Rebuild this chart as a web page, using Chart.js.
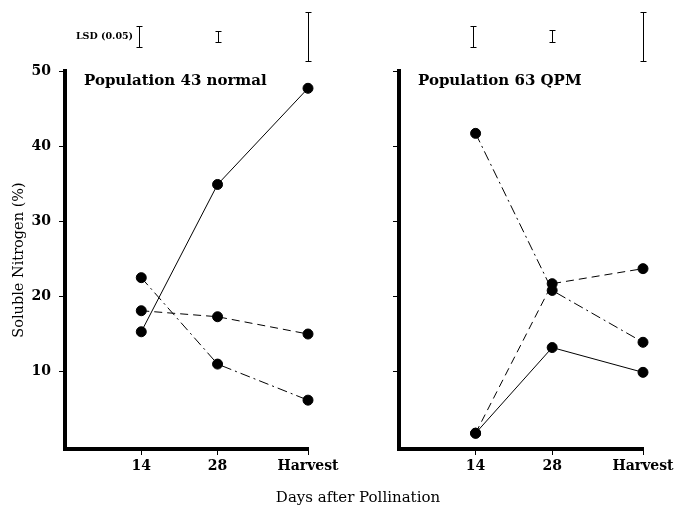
<!DOCTYPE html>
<html>
<head>
<meta charset="utf-8">
<script src="https://cdn.jsdelivr.net/npm/chart.js@4.4.0/dist/chart.umd.min.js"></script>
<style>
    body { margin: 0; background: #fff; }
    #wrap { position: relative; width: 685px; height: 506px; overflow: hidden; background: #fff; }
    #leftChart { position: absolute; left: 0; top: 0; }
    #rightChart { position: absolute; left: 345px; top: 0; }
    #xTitle {
        position: absolute; left: 358px; top: 488px; transform: translateX(-50%);
        font: 15px 'DejaVu Serif', serif; color: #000; white-space: nowrap;
    }
</style>
</head>
<body>
<div id="wrap">
    <canvas id="leftChart" width="345" height="506"></canvas>
    <canvas id="rightChart" width="340" height="506"></canvas>
    <div id="xTitle">Days after Pollination</div>
</div>
<script>
    'use strict';

    // дни после опыления (позиции на линейной оси) и подписи
    const dayLabels = ['14', '28', 'Harvest'];
    const dayPositions = [14, 28, 44.6];
    const yTicks = [10, 20, 30, 40, 50];

    // Population 43 normal
    const normalSolid = [15.3, 34.9, 47.7];
    const normalDashed = [18.1, 17.3, 15.0];
    const normalDashDot = [22.5, 11.0, 6.2];

    // Population 63 QPM
    const qpmSolid = [1.8, 13.2, 9.9];
    const qpmDashed = [1.8, 21.7, 23.7];
    const qpmDashDot = [41.7, 20.8, 13.9];

    // LSD (0.05) — длина отрезка в единицах оси
    const lsdPositions = [13.6, 28, 44.6];
    const normalLsd = [2.8, 1.5, 6.5];
    const qpmLsd = [2.8, 1.6, 6.5];
    const lsdCenter = 54.6;

    const SERIF = "'DejaVu Serif', serif";

    const panelDecor = {
        id: 'panelDecor',
        afterDraw(chart, args, opts) {
            const ctx = chart.ctx;
            const xs = chart.scales.x;
            const ys = chart.scales.y;
            const area = chart.chartArea;
            ctx.save();
            ctx.fillStyle = '#000';
            ctx.strokeStyle = '#000';

            // заголовок панели
            ctx.font = 'bold 15px ' + SERIF;
            ctx.textAlign = 'left';
            ctx.textBaseline = 'middle';
            ctx.fillText(opts.title, area.left + 19, area.top + 10);

            // отрезки LSD
            ctx.lineWidth = 1;
            opts.lsd.forEach(function(len, i) {
                const x = Math.round(xs.getPixelForValue(lsdPositions[i])) + 0.5;
                const yTop = Math.round(ys.getPixelForValue(lsdCenter + len / 2)) + 0.5;
                const yBot = Math.round(ys.getPixelForValue(lsdCenter - len / 2)) + 0.5;
                ctx.beginPath();
                ctx.moveTo(x, yTop);
                ctx.lineTo(x, yBot);
                ctx.moveTo(x - 3, yTop);
                ctx.lineTo(x + 3, yTop);
                ctx.moveTo(x - 3, yBot);
                ctx.lineTo(x + 3, yBot);
                ctx.stroke();
            });

            if (opts.showLabel) {
                ctx.font = 'bold 9.5px ' + SERIF;
                ctx.textAlign = 'right';
                ctx.fillText('LSD (0.05)', xs.getPixelForValue(lsdPositions[0]) - 6, ys.getPixelForValue(lsdCenter));
            }
            ctx.restore();
        }
    };

    function toPoints(values) {
        return values.map(function(v, i) {
            return { x: dayPositions[i], y: v };
        });
    }

    function lineSet(values, dash) {
        return {
            data: toPoints(values),
            borderColor: '#000',
            backgroundColor: '#000',
            borderWidth: 1,
            borderDash: dash,
            pointRadius: 5,
            pointBorderWidth: 1,
            pointBorderColor: '#000',
            pointBackgroundColor: '#000',
            tension: 0,
            clip: false
        };
    }

    function makePanel(canvasId, cfg) {
        const canvas = document.getElementById(canvasId);
        return new Chart(canvas.getContext('2d'), {
            type: 'line',
            data: {
                datasets: [
                    lineSet(cfg.solid, []),
                    lineSet(cfg.dashed, [8, 5]),
                    lineSet(cfg.dashDot, [10, 4, 2, 4])
                ]
            },
            plugins: [panelDecor],
            options: {
                responsive: false,
                animation: false,
                events: [],
                layout: {
                    padding: { top: 71, right: cfg.padRight, bottom: 0, left: 0 }
                },
                plugins: {
                    legend: { display: false },
                    tooltip: { enabled: false },
                    panelDecor: { title: cfg.title, lsd: cfg.lsd, showLabel: cfg.showLabels }
                },
                scales: {
                    x: {
                        type: 'linear',
                        min: 0,
                        max: dayPositions[dayPositions.length - 1],
                        afterBuildTicks: function(scale) {
                            scale.ticks = dayPositions.map(function(v) { return { value: v }; });
                        },
                        afterFit: function(scale) {
                            scale.height = 57;
                        },
                        ticks: {
                            autoSkip: false,
                            maxRotation: 0,
                            padding: 3,
                            color: '#000',
                            font: { family: SERIF, size: 14, weight: 'bold' },
                            callback: function(value, index) {
                                return dayLabels[index];
                            }
                        },
                        grid: {
                            drawOnChartArea: false,
                            drawTicks: true,
                            tickLength: 6,
                            color: '#000',
                            lineWidth: 1
                        },
                        border: { display: true, color: '#000', width: 4 }
                    },
                    y: {
                        min: -0.3,
                        max: 50,
                        afterBuildTicks: function(scale) {
                            scale.ticks = yTicks.map(function(v) { return { value: v }; });
                        },
                        afterFit: function(scale) {
                            scale.width = cfg.yWidth;
                        },
                        title: {
                            display: cfg.showLabels,
                            text: 'Soluble Nitrogen (%)',
                            color: '#000',
                            font: { family: SERIF, size: 14.5 },
                            padding: { top: 11, bottom: 0 }
                        },
                        ticks: {
                            display: cfg.showLabels,
                            padding: 8,
                            color: '#000',
                            font: { family: SERIF, size: 14, weight: 'bold' }
                        },
                        grid: {
                            drawOnChartArea: false,
                            drawTicks: true,
                            tickLength: 6,
                            color: '#000',
                            lineWidth: 1
                        },
                        border: { display: true, color: '#000', width: 4 }
                    }
                }
            }
        });
    }

    makePanel('leftChart', {
        title: 'Population 43 normal',
        solid: normalSolid,
        dashed: normalDashed,
        dashDot: normalDashDot,
        lsd: normalLsd,
        showLabels: true,
        yWidth: 65,
        padRight: 37
    });

    makePanel('rightChart', {
        title: 'Population 63 QPM',
        solid: qpmSolid,
        dashed: qpmDashed,
        dashDot: qpmDashDot,
        lsd: qpmLsd,
        showLabels: false,
        yWidth: 54,
        padRight: 42
    });
</script>
</body>
</html>
